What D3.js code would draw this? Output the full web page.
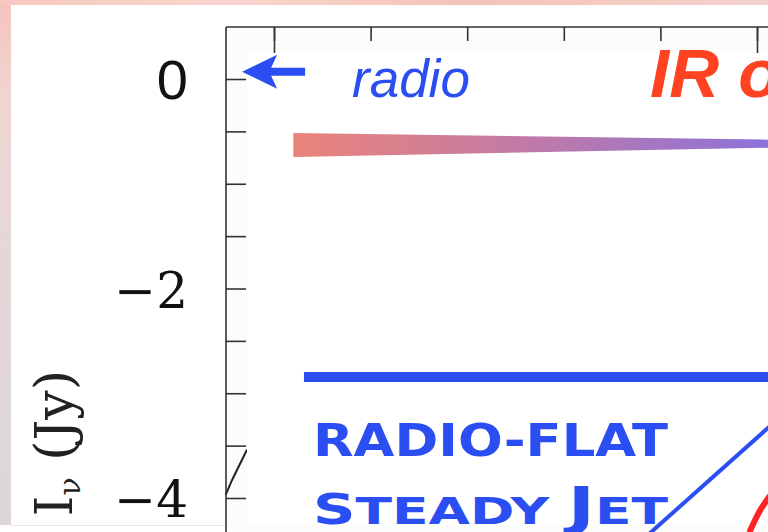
<!DOCTYPE html>
<html lang="en">
<head>
  <meta charset="UTF-8">
  <title>Jet spectrum</title>
  <script src="https://d3js.org/d3.v7.min.js"></script>
  <style>
    html, body { margin: 0; padding: 0; background: #fff; }
    svg { display: block; }
  </style>
</head>
<body>
<div class="main"></div>
<script>
  // axis ticks (log frequency on top, log flux on the left)
  var xTicks = [10, 11, 12, 13, 14, 15];
  var xMajorTicks = [10, 15];
  var yTicks = [0, -0.5, -1, -1.5, -2, -2.5, -3, -3.5, -4];
  var yLabels = [0, -2, -4];

  // radio -> IR band (tapered wedge)
  var bandX = [10.2, 15.2];
  var bandTop = [-0.515, -0.58];
  var bandBottom = [-0.745, -0.655];

  // flat radio spectrum of the steady jet
  var flatX = [10.31, 15.2];
  var flatY = [-2.845, -2.845];

  // optically thin branch
  var thinX = [13.85, 15.2];
  var thinY = [-4.37, -3.26];

  // red bump
  var bumpX = [14.92, 14.98, 15.04, 15.11, 15.2];
  var bumpY = [-4.33, -4.21, -4.105, -4.01, -3.9];

  // piece of the original plotted curve left of the overlay
  var oldX = [9.50, 9.565, 9.72];
  var oldY = [-3.97, -3.83, -3.54];

  var width = 768, height = 532;
  var blue = "#2b4ef3";

  var svg = d3.select(".main").append("svg").attr("width", width).attr("height", height);
  var defs = svg.append("defs");

  // outer pink/grey border
  var side = defs.append("linearGradient").attr("id", "side").attr("x1", 0).attr("y1", 0).attr("x2", 0).attr("y2", 1);
  side.append("stop").attr("offset", "0").attr("stop-color", "#f5c4bc");
  side.append("stop").attr("offset", "0.2").attr("stop-color", "#efd6d3");
  side.append("stop").attr("offset", "0.5").attr("stop-color", "#e4d7d8");
  side.append("stop").attr("offset", "1").attr("stop-color", "#dcd6da");
  var topg = defs.append("linearGradient").attr("id", "topg").attr("x1", 0).attr("y1", 0).attr("x2", 1).attr("y2", 0);
  topg.append("stop").attr("offset", "0").attr("stop-color", "#f5c8c0");
  topg.append("stop").attr("offset", "0.3").attr("stop-color", "#f8d6cf");
  topg.append("stop").attr("offset", "0.6").attr("stop-color", "#f4c2ba");
  topg.append("stop").attr("offset", "1").attr("stop-color", "#f3d2cc");

  svg.append("rect").attr("x", 0).attr("y", 0).attr("width", width).attr("height", height).attr("fill", "url(#side)");
  svg.append("rect").attr("x", 0).attr("y", 0).attr("width", width).attr("height", 5).attr("fill", "url(#topg)");
  svg.append("rect").attr("x", 11).attr("y", 5).attr("width", width - 11).attr("height", 520).attr("fill", "#fff");
  svg.append("rect").attr("x", 0).attr("y", 525).attr("width", width).attr("height", 7).attr("fill", "#fff");
  svg.append("rect").attr("x", 596).attr("y", 526).attr("width", width - 596).attr("height", 6).attr("fill", "#ececec");
  svg.append("line").attr("x1", 11).attr("y1", 525.5).attr("x2", width).attr("y2", 525.5).style("stroke", "#e6e6e6");

  var xs = d3.scaleLinear().domain([10, 15]).range([274, 757]);
  var ys = d3.scaleLinear().domain([0, -4]).range([79, 498]);

  var frameLeft = 226, frameTop = 27;

  // plot area tint
  svg.append("rect").attr("x", frameLeft).attr("y", frameTop).attr("width", width - frameLeft).attr("height", height - frameTop).attr("fill", "#fcfcfa");

  // old curve
  var line = d3.line().x(function(d) { return xs(d[0]); }).y(function(d) { return ys(d[1]); });
  svg.append("path").attr("d", line(d3.zip(oldX, oldY))).style("fill", "none").style("stroke", "#222").style("stroke-width", 2);

  // top axis
  var topAxis = svg.append("g").attr("transform", "translate(0," + frameTop + ")")
    .call(d3.axisBottom(xs).tickValues(xTicks).tickSize(14).tickFormat(""));
  svg.append("g").attr("transform", "translate(0," + frameTop + ")")
    .call(d3.axisBottom(xs).tickValues(xMajorTicks).tickSize(28).tickFormat(""))
    .select(".domain").remove();
  topAxis.select(".domain").remove();
  svg.append("line").attr("x1", frameLeft).attr("y1", frameTop).attr("x2", width).attr("y2", frameTop).style("stroke", "#333").style("stroke-width", 1.6);

  // left axis, ticks pointing into the plot
  var leftAxis = svg.append("g").attr("transform", "translate(" + frameLeft + ",0)")
    .call(d3.axisRight(ys).tickValues(yTicks).tickSize(20).tickFormat(""));
  leftAxis.select(".domain").remove();
  svg.selectAll(".tick line").style("stroke", "#333").style("stroke-width", 1.6);
  svg.append("line").attr("x1", frameLeft).attr("y1", frameTop).attr("x2", frameLeft).attr("y2", height).style("stroke", "#333").style("stroke-width", 1.6);

  // y tick labels
  svg.selectAll(".ylabel").data(yLabels).enter().append("text")
    .attr("class", "ylabel")
    .attr("x", 188)
    .attr("y", function(d) { return ys(d) + (d === 0 ? 20 : 19); })
    .attr("text-anchor", "end")
    .style("font-family", function(d) { return d === 0 ? "Liberation Sans, Arial, sans-serif" : "DejaVu Serif, serif"; })
    .style("font-size", function(d) { return d === 0 ? "56px" : "50px"; })
    .style("fill", "#111")
    .text(function(d) { return d === 0 ? "0" : "\u2212" + Math.abs(d); });

  // y axis title
  var yt = svg.append("text")
    .attr("transform", "translate(72,370) rotate(-90)")
    .attr("text-anchor", "end")
    .style("font-family", "DejaVu Serif, serif")
    .style("font-size", "52px")
    .style("fill", "#222");
  yt.append("tspan").text("I");
  yt.append("tspan").attr("dy", 8).style("font-size", "30px").text("\u03bd");
  yt.append("tspan").attr("dy", -8).text(" (Jy)");

  // white overlay panel
  svg.append("rect").attr("x", 247).attr("y", 53).attr("width", width - 247).attr("height", 472).attr("fill", "#fff");

  // band gradient
  var bandGrad = defs.append("linearGradient").attr("id", "band").attr("gradientUnits", "userSpaceOnUse")
    .attr("x1", xs(bandX[0])).attr("y1", 0).attr("x2", width).attr("y2", 0);
  bandGrad.append("stop").attr("offset", "0").attr("stop-color", "#ea8479");
  bandGrad.append("stop").attr("offset", "0.5").attr("stop-color", "#c07aa8");
  bandGrad.append("stop").attr("offset", "1").attr("stop-color", "#8c72da");

  var area = d3.area()
    .x(function(d) { return xs(d[0]); })
    .y0(function(d) { return ys(d[2]); })
    .y1(function(d) { return ys(d[1]); });
  svg.append("path").attr("d", area(d3.zip(bandX, bandTop, bandBottom))).style("fill", "url(#band)");

  svg.append("path").attr("d", line(d3.zip(flatX, flatY))).style("fill", "none").style("stroke", blue).style("stroke-width", 10);
  svg.append("path").attr("d", line(d3.zip(thinX, thinY))).style("fill", "none").style("stroke", blue).style("stroke-width", 4);

  var curve = d3.line().curve(d3.curveNatural).x(function(d) { return xs(d[0]); }).y(function(d) { return ys(d[1]); });
  svg.append("path").attr("d", curve(d3.zip(bumpX, bumpY))).style("fill", "none").style("stroke", "#ff2323").style("stroke-width", 6);

  // arrow pointing at the 0 level
  var tipX = xs(9.67), tipY = ys(0.07);
  svg.append("path")
    .attr("d", "M" + tipX + "," + tipY + " l35,-17 l-6,13 l34,0 l0,8 l-34,0 l6,13 z")
    .style("fill", blue);

  svg.append("text").attr("x", 352).attr("y", 97)
    .style("font-family", "Liberation Sans, Arial, sans-serif").style("font-style", "italic")
    .style("font-size", "53px").style("fill", blue).text("radio");

  svg.append("text").attr("x", 650).attr("y", 97)
    .style("font-family", "Liberation Sans, Arial, sans-serif").style("font-style", "italic").style("font-weight", "bold")
    .style("font-size", "69px").style("fill", "#ff4220").text("IR optical");

  // copperplate-style labels
  var t1 = svg.append("text").attr("x", 313).attr("y", 456)
    .attr("textLength", 355).attr("lengthAdjust", "spacingAndGlyphs")
    .style("font-family", "DejaVu Sans, sans-serif").style("font-weight", "bold")
    .style("font-size", "45px").style("fill", blue).text("RADIO-FLAT");

  var t2 = svg.append("text").attr("x", 313).attr("y", 524)
    .attr("textLength", 355).attr("lengthAdjust", "spacingAndGlyphs")
    .style("font-family", "DejaVu Sans, sans-serif").style("font-weight", "bold")
    .style("font-size", "38px").style("fill", blue);
  t2.append("tspan").style("font-size", "42px").text("S");
  t2.append("tspan").text("TEADY ");
  t2.append("tspan").style("font-size", "52px").text("J");
  t2.append("tspan").text("ET");
</script>
</body>
</html>
